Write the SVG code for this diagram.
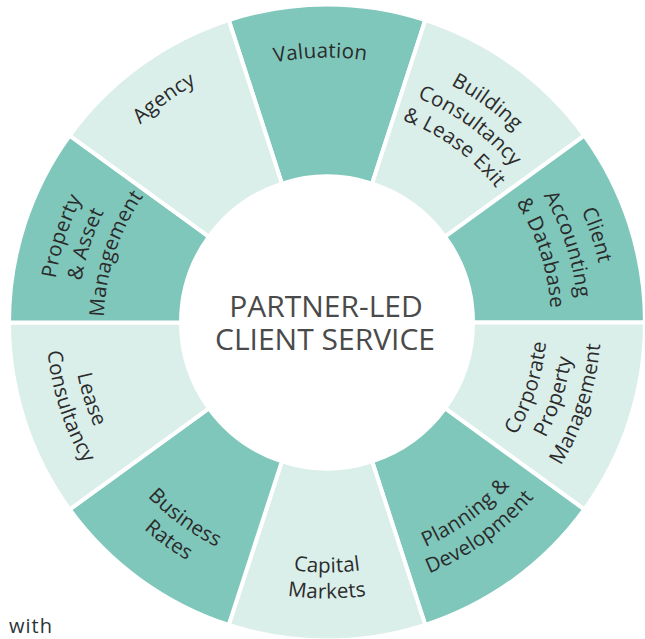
<svg xmlns="http://www.w3.org/2000/svg" width="645" height="639" viewBox="0 0 645 639">
<style>
.dk{fill:#7fc7bb;stroke:#fff;stroke-width:4;stroke-linejoin:miter}
.lt{fill:#daeeea;stroke:#fff;stroke-width:4;stroke-linejoin:miter}
.lbl{font-family:"Open Sans","Noto Sans","DejaVu Sans",sans-serif;font-size:20.5px;letter-spacing:0.2px;fill:#2b2b2b;text-anchor:middle}
.ctr{font-family:"Open Sans","Noto Sans","DejaVu Sans",sans-serif;font-size:30px;font-weight:500;fill:#4a4a4a;text-anchor:middle}
</style>
<defs>
<path id="t265" d="M 123.998 152.161 A 265 265 0 0 1 530.002 152.161"/>
<path id="t268" d="M 121.700 150.233 A 268 268 0 0 1 532.300 150.233"/>
<path id="t242" d="M 141.617 166.945 A 242 242 0 0 1 512.383 166.945"/>
<path id="t216" d="M 161.534 183.658 A 216 216 0 0 1 492.466 183.658"/>
<path id="t272" d="M 118.636 147.662 A 272 272 0 0 1 535.364 147.662"/>
<path id="t275" d="M 116.338 145.733 A 275 275 0 0 1 537.662 145.733"/>
<path id="t249" d="M 136.255 162.446 A 249 249 0 0 1 517.745 162.446"/>
<path id="t223" d="M 156.172 179.158 A 223 223 0 0 1 497.828 179.158"/>
<path id="t278" d="M 114.040 143.805 A 278 278 0 0 1 539.960 143.805"/>
<path id="t251" d="M 134.723 161.160 A 251 251 0 0 1 519.277 161.160"/>
<path id="t224" d="M 155.406 178.515 A 224 224 0 0 1 498.594 178.515"/>
<path id="b220" d="M 158.470 463.913 A 220 220 0 0 0 495.530 463.913"/>
<path id="b247" d="M 137.787 481.269 A 247 247 0 0 0 516.213 481.269"/>
<path id="b274" d="M 117.104 498.624 A 274 274 0 0 0 536.896 498.624"/>
<path id="b245" d="M 139.319 479.983 A 245 245 0 0 0 514.681 479.983"/>
<path id="b271" d="M 119.402 496.696 A 271 271 0 0 0 534.598 496.696"/>
<path id="b250" d="M 135.489 483.197 A 250 250 0 0 0 518.511 483.197"/>
<path id="b276" d="M 115.572 499.909 A 276 276 0 0 0 538.428 499.909"/>
<path id="b255" d="M 131.659 486.411 A 255 255 0 0 0 522.341 486.411"/>
<path id="b281" d="M 111.742 503.123 A 281 281 0 0 0 542.258 503.123"/>
</defs>
<rect width="645" height="639" fill="#fff"/>

<g id="seg-valuation">
<path class="dk" d="M 425.267 20.064 A 318 318 0 0 0 228.733 20.064 L 281.884 183.646 A 146 146 0 0 1 372.116 183.646 Z"/>
<text class="lbl" transform="rotate(-1.4 327 322.5)"><textPath href="#t265" startOffset="50%">Valuation</textPath></text>
</g>

<g id="seg-building">
<path class="lt" d="M 584.267 135.584 A 318 318 0 0 0 425.267 20.064 L 372.116 183.646 A 146 146 0 0 1 445.116 236.683 Z"/>
<text class="lbl" transform="rotate(36 327 322.5)"><textPath href="#t268" startOffset="50%">Building</textPath></text>
<text class="lbl" transform="rotate(36 327 322.5)"><textPath href="#t242" startOffset="50%">Consultancy</textPath></text>
<text class="lbl" transform="rotate(36 327 322.5)"><textPath href="#t216" startOffset="50%">&amp; Lease Exit</textPath></text>
</g>

<g id="seg-client">
<path class="dk" d="M 645 322.5 A 318 318 0 0 0 584.267 135.584 L 445.116 236.683 A 146 146 0 0 1 473 322.5 Z"/>
<text class="lbl" transform="rotate(72 327 322.5)"><textPath href="#t278" startOffset="50%">Client</textPath></text>
<text class="lbl" transform="rotate(72 327 322.5)"><textPath href="#t251" startOffset="50%">Accounting</textPath></text>
<text class="lbl" transform="rotate(72 327 322.5)"><textPath href="#t224" startOffset="50%">&amp; Database</textPath></text>
</g>

<g id="seg-corporate">
<path class="lt" d="M 584.267 509.416 A 318 318 0 0 0 645 322.5 L 473 322.5 A 146 146 0 0 1 445.116 408.317 Z"/>
<text class="lbl" transform="rotate(-72 327 322.5)"><textPath href="#b220" startOffset="50%">Corporate</textPath></text>
<text class="lbl" transform="rotate(-72 327 322.5)"><textPath href="#b247" startOffset="50%">Property</textPath></text>
<text class="lbl" transform="rotate(-72 327 322.5)"><textPath href="#b274" startOffset="50%">Management</textPath></text>
</g>

<g id="seg-planning">
<path class="dk" d="M 425.267 624.936 A 318 318 0 0 0 584.267 509.416 L 445.116 408.317 A 146 146 0 0 1 372.116 461.354 Z"/>
<text class="lbl" transform="rotate(-36 327 322.5)"><textPath href="#b245" startOffset="50%">Planning &amp;</textPath></text>
<text class="lbl" transform="rotate(-36 327 322.5)"><textPath href="#b271" startOffset="50%">Development</textPath></text>
</g>

<g id="seg-capital">
<path class="lt" d="M 228.733 624.936 A 318 318 0 0 0 425.267 624.936 L 372.116 461.354 A 146 146 0 0 1 281.884 461.354 Z"/>
<text class="lbl"><textPath href="#b250" startOffset="50%">Capital</textPath></text>
<text class="lbl"><textPath href="#b276" startOffset="50%">Markets</textPath></text>
</g>

<g id="seg-business">
<path class="dk" d="M 69.733 509.416 A 318 318 0 0 0 228.733 624.936 L 281.884 461.354 A 146 146 0 0 1 208.884 408.317 Z"/>
<text class="lbl" transform="rotate(36 327 322.5)"><textPath href="#b250" startOffset="50%">Business</textPath></text>
<text class="lbl" transform="rotate(36 327 322.5)"><textPath href="#b276" startOffset="50%">Rates</textPath></text>
</g>

<g id="seg-lease">
<path class="lt" d="M 9 322.5 A 318 318 0 0 0 69.733 509.416 L 208.884 408.317 A 146 146 0 0 1 181 322.5 Z"/>
<text class="lbl" transform="rotate(72 327 322.5)"><textPath href="#b255" startOffset="50%">Lease</textPath></text>
<text class="lbl" transform="rotate(72 327 322.5)"><textPath href="#b281" startOffset="50%">Consultancy</textPath></text>
</g>

<g id="seg-property">
<path class="dk" d="M 69.733 135.584 A 318 318 0 0 0 9 322.5 L 181 322.5 A 146 146 0 0 1 208.884 236.683 Z"/>
<text class="lbl" transform="rotate(-72 327 322.5)"><textPath href="#t275" startOffset="50%">Property</textPath></text>
<text class="lbl" transform="rotate(-72 327 322.5)"><textPath href="#t249" startOffset="50%">&amp; Asset</textPath></text>
<text class="lbl" transform="rotate(-72 327 322.5)"><textPath href="#t223" startOffset="50%">Management</textPath></text>
</g>

<g id="seg-agency">
<path class="lt" d="M 228.733 20.064 A 318 318 0 0 0 69.733 135.584 L 208.884 236.683 A 146 146 0 0 1 281.884 183.646 Z"/>
<text class="lbl" transform="rotate(-36 327 322.5)"><textPath href="#t272" startOffset="50%">Agency</textPath></text>
</g>

<g id="center">
<text class="ctr" x="326" y="316.5">PARTNER-LED</text>
<text class="ctr" x="325" y="350">CLIENT SERVICE</text>
</g>

<text x="9" y="633" style="font-family:'Open Sans','Noto Sans',sans-serif;font-size:20px;letter-spacing:1px;fill:#2b3338">with</text>
</svg>
